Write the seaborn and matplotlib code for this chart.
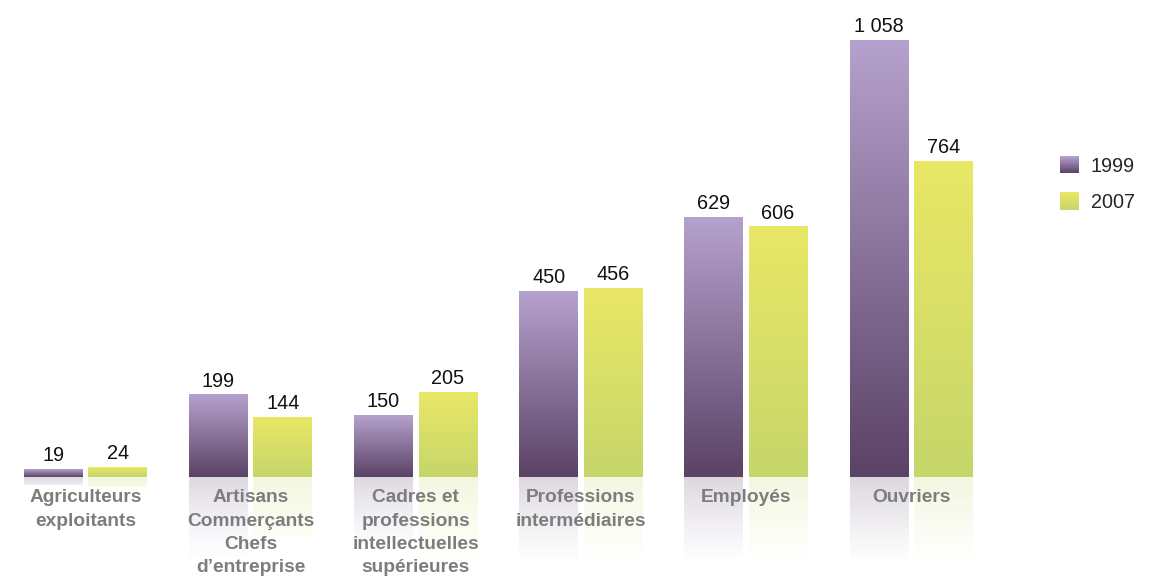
import numpy as np
import pandas as pd
import matplotlib
matplotlib.use("Agg")
import matplotlib.pyplot as plt
import seaborn as sns
from matplotlib.colors import to_rgb
from matplotlib.patches import Rectangle
from matplotlib.legend_handler import HandlerBase

# --- data ---
categories = [
    "Agriculteurs\nexploitants",
    "Artisans\nCommerçants\nChefs\nd’entreprise",
    "Cadres et\nprofessions\nintellectuelles\nsupérieures",
    "Professions\nintermédiaires",
    "Employés",
    "Ouvriers",
]
years = ["1999", "2007"]
values_1999 = [19, 199, 150, 450, 629, 1058]
values_2007 = [24, 144, 205, 456, 606, 764]

# gradient colours (top, bottom) per year
grad = {
    "1999": (to_rgb("#b5a1cd"), to_rgb("#5b4366")),
    "2007": (to_rgb("#e9e765"), to_rgb("#c6d66a")),
}

df = pd.DataFrame({
    "cat": categories * 2,
    "year": [years[0]] * 6 + [years[1]] * 6,
    "value": values_1999 + values_2007,
})

sns.set_style("white")
plt.rcParams["font.family"] = ["Liberation Sans", "DejaVu Sans"]

fig = plt.figure(figsize=(11.6, 5.77), dpi=100)
ax = fig.add_axes([0, 0, 1, 1])

sns.barplot(data=df, x="cat", y="value", hue="year", hue_order=years,
            width=0.78, gap=0.09, legend=False, ax=ax, saturation=1)

px_per_unit = 437 / 1058
fade = 86 / px_per_unit  # reflection fades out over ~86 px

for year, cont in zip(years, ax.containers):
    top, bot = np.array(grad[year][0]), np.array(grad[year][1])
    for bar in cont:
        x, w, h = bar.get_x(), bar.get_width(), bar.get_height()
        bar.set_facecolor("none")
        bar.set_edgecolor("none")
        n = 64
        t = np.linspace(0, 1, n)[:, None]
        # bar itself: row 0 = top
        img = top * (1 - t) + bot * t
        ax.imshow(img[:, None, :], extent=[x, x + w, 0, h], aspect="auto",
                  interpolation="bilinear", zorder=2)
        # reflection below baseline
        rh = min(h, fade)
        d = np.linspace(0, rh, n)[:, None]
        col = bot * (1 - d / h) + top * (d / h)
        alpha = 0.21 * np.clip(1 - d / fade, 0, 1)
        ref = np.concatenate([col, alpha], axis=1)
        ax.imshow(ref[:, None, :], extent=[x, x + w, -rh, 0], aspect="auto",
                  interpolation="bilinear", zorder=1)
        lab = f"{int(h):,}".replace(",", " ")
        ax.annotate(lab, (x + w / 2, h), xytext=(0, 3), textcoords="offset points",
                    ha="center", va="bottom", fontsize=14.3, color="#111111", zorder=3)

for i, cat in enumerate(categories):
    ax.annotate(cat, (i, 0), xytext=(0, -9), textcoords="offset points",
                ha="center", va="top", multialignment="center", fontsize=13.8,
                fontweight="bold", color="#7d7d7d", linespacing=1.48, zorder=3)

ax.set_xlim(-85.5 / 165.1, (1160 - 85.5) / 165.1)
ax.set_ylim(-100 / px_per_unit, 477 / px_per_unit)
ax.axis("off")


class GradientHandler(HandlerBase):
    def __init__(self, top, bottom):
        super().__init__()
        self.top, self.bottom = np.array(top), np.array(bottom)

    def create_artists(self, legend, orig_handle, xdescent, ydescent,
                       width, height, fontsize, trans):
        n = 24
        arts = []
        for k in range(n):
            t = k / (n - 1)
            c = self.bottom * (1 - t) + self.top * t
            arts.append(Rectangle((-xdescent, -ydescent + height * k / n), width, height / n + 0.2,
                                  facecolor=c, edgecolor="none", transform=trans))
        return arts


handles = [Rectangle((0, 0), 1, 1) for _ in years]
hmap = {hd: GradientHandler(*grad[y]) for hd, y in zip(handles, years)}
fig.legend(handles, years, handler_map=hmap, loc="center left",
           bbox_to_anchor=(1060 / 1160, (577 - 184) / 577), frameon=False,
           fontsize=14.3, handlelength=0.96, handleheight=0.96, handletextpad=0.6,
           labelspacing=0.85, borderpad=0, borderaxespad=0)

fig.savefig("out.png", dpi=100)
